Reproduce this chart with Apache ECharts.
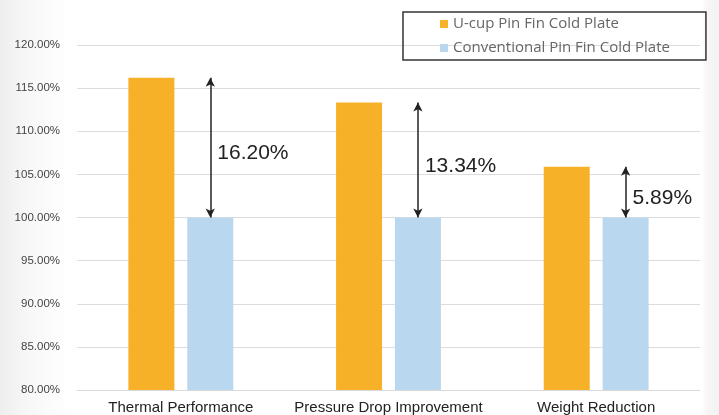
<!DOCTYPE html>
<html>
<head>
<meta charset="utf-8">
<script src="https://cdn.jsdelivr.net/npm/echarts@6/dist/echarts.min.js"></script>
<style>
  html, body { margin: 0; padding: 0; }
  body {
    width: 719px; height: 415px;
    background: linear-gradient(to right, #eeeeee 0px, #f8f8f8 30px, #ffffff 70px, #ffffff 702px, #f6f6f6 707px, #f3f3f3 719px);
  }
  #chart { width: 719px; height: 415px; }
</style>
</head>
<body>
<div id="chart"></div>
<script>
// Relative performance of the two cold plate designs (conventional = 100%)
const categories = ['Thermal Performance', 'Pressure Drop Improvement', 'Weight Reduction'];
const ucupValues = [116.20, 113.34, 105.89];
const conventionalValues = [100, 100, 100];
const seriesNames = ['U-cup Pin Fin Cold Plate', 'Conventional Pin Fin Cold Plate'];
const yTicks = { min: 80, max: 120, step: 5 };

// Improvement arrows run from the conventional bar top to the U-cup value
const arrowLines = categories.map((c, i) => [
  { coord: [i, ucupValues[i]] },
  { coord: [i, conventionalValues[i]] }
]);
const arrowLabels = categories.map((c, i) => ({
  coord: [i, (ucupValues[i] + conventionalValues[i]) / 2],
  value: (ucupValues[i] - conventionalValues[i]).toFixed(2) + '%'
}));

const chart = echarts.init(document.getElementById('chart'), null, { renderer: 'canvas' });
chart.setOption({
  backgroundColor: 'transparent',
  animation: false,
  grid: { left: 77, right: 19, top: 45, bottom: 24, containLabel: false },
  legend: {
    orient: 'vertical',
    left: 403,
    top: 12,
    padding: [4, 36, 4, 37],
    borderColor: '#333',
    borderWidth: 1.5,
    itemWidth: 8,
    itemHeight: 8,
    itemGap: 8,
    icon: 'rect',
    textStyle: { fontFamily: 'Open Sans', fontSize: 15, lineHeight: 16, color: '#666' },
    data: seriesNames
  },
  xAxis: {
    type: 'category',
    data: categories,
    axisTick: { show: false },
    axisLine: { lineStyle: { color: '#d9d9d9', width: 1 } },
    axisLabel: { interval: 0, fontFamily: 'Liberation Sans', fontSize: 15, color: '#222', margin: 10 }
  },
  yAxis: {
    type: 'value',
    min: yTicks.min,
    max: yTicks.max,
    interval: yTicks.step,
    axisLine: { show: false },
    axisTick: { show: false },
    splitLine: { lineStyle: { color: '#dcdcdc', width: 1 } },
    axisLabel: {
      fontFamily: 'Liberation Sans', fontSize: 11.5, color: '#444', margin: 17,
      formatter: v => v.toFixed(2) + '%'
    }
  },
  series: [
    {
      name: seriesNames[0],
      type: 'bar',
      data: ucupValues,
      barWidth: 46,
      barGap: '28%',
      itemStyle: { color: '#F6B128' }
    },
    {
      name: seriesNames[1],
      type: 'bar',
      data: conventionalValues,
      barWidth: 46,
      itemStyle: { color: '#BAD7F0' },
      markLine: {
        silent: true,
        symbol: ['arrow', 'arrow'],
        symbolSize: [7, 9],
        lineStyle: { color: '#222', width: 1.5, type: 'solid' },
        label: { show: false },
        data: arrowLines
      },
      markPoint: {
        silent: true,
        symbol: 'circle',
        symbolSize: 0,
        label: {
          show: true,
          position: 'right',
          distance: 7,
          offset: [0, 6],
          formatter: p => p.data.value,
          fontFamily: 'Liberation Sans',
          fontSize: 21,
          color: '#222'
        },
        data: arrowLabels
      }
    }
  ]
});
</script>
</body>
</html>
